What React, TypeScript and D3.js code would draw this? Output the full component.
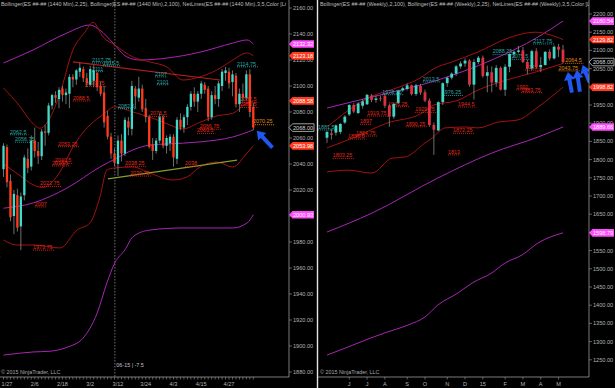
import * as d3 from "d3";

type Bar = [number, number, number, number]; // open, high, low, close

// ES daily bars 1/26 .. 5/6
const dailyBars: Bar[] = [
  [2036, 2056, 2030, 2054], [2053, 2055, 2022, 2026], [2027, 2032, 1996, 1999], [2000, 2020, 1986, 2017],
  [2016, 2021, 1988, 1991], [1992, 2018, 1973.75, 2015], [2016, 2047, 2012, 2045], [2044, 2052, 2033, 2037],
  [2038, 2062, 2035, 2058], [2058, 2068, 2045, 2050], [2050, 2057, 2040, 2046], [2046, 2067, 2043, 2065],
  [2065, 2070, 2054, 2064], [2064, 2087, 2062, 2085], [2085, 2094, 2082, 2093], [2093, 2096, 2087, 2091],
  [2090, 2099, 2083, 2097], [2098, 2100, 2088, 2093], [2093, 2098, 2086, 2095], [2094, 2109, 2083, 2107],
  [2107, 2109, 2099, 2105], [2105, 2113, 2101, 2112], [2111, 2117.75, 2107, 2114], [2113, 2115, 2103, 2106],
  [2106, 2110, 2099, 2102], [2101, 2115.5, 2100, 2113], [2104, 2116, 2099, 2112], [2110, 2111, 2096, 2099],
  [2100, 2103, 2092, 2094], [2095, 2100, 2068, 2072], [2077, 2081, 2059, 2061], [2061, 2064, 2044, 2048],
  [2048, 2052, 2038.25, 2041], [2040, 2062, 2030.75, 2058], [2058, 2063, 2042, 2048], [2048, 2076, 2046, 2074],
  [2073, 2076, 2062, 2068], [2067, 2104, 2062, 2100], [2098, 2100, 2082.5, 2092], [2091, 2107, 2088, 2098],
  [2098, 2101, 2080, 2082], [2083, 2090, 2072, 2076], [2076, 2078, 2052, 2053], [2055, 2060, 2043, 2050],
  [2050, 2060, 2048, 2058], [2058, 2079, 2056, 2076], [2076, 2078, 2052, 2054], [2054, 2062, 2048, 2060],
  [2056, 2063, 2050, 2061], [2061, 2063, 2038, 2045], [2044, 2076, 2040, 2074], [2074, 2079, 2066, 2068],
  [2068, 2078, 2064, 2076], [2076, 2086, 2070, 2084], [2084, 2096, 2081, 2094], [2094, 2099, 2084, 2088],
  [2088, 2096, 2080, 2094], [2094, 2104, 2090, 2102], [2101, 2103, 2094, 2097], [2098, 2100, 2073, 2076],
  [2076, 2096, 2074, 2093], [2093, 2100, 2086, 2090], [2090, 2104, 2084, 2102], [2100, 2113, 2096, 2111],
  [2110, 2114.75, 2104, 2112], [2111, 2114, 2098, 2102], [2103, 2112, 2092, 2109], [2108, 2110, 2083.5, 2086],
  [2086, 2098, 2080, 2094], [2094, 2102, 2088, 2091], [2091, 2112, 2089, 2109], [2109, 2113, 2076, 2080],
  [2084, 2087, 2066, 2068],
];

// ES weekly bars, week of 4/28/2014 .. 5/4/2015
const weeklyBars: Bar[] = [
  [1860, 1880, 1846, 1876], [1872, 1884, 1855, 1868], [1874, 1896, 1866, 1894], [1876, 1900, 1870, 1898],
  [1902, 1922, 1898, 1918], [1924, 1952, 1920, 1950], [1950, 1955, 1928, 1932], [1928, 1958, 1925, 1954],
  [1948, 1966, 1940, 1960], [1952, 1980, 1950, 1978], [1976, 1980, 1958, 1964], [1964, 1976, 1956, 1968],
  [1968, 1976, 1960, 1966], [1975, 1980, 1942, 1948], [1948, 1952, 1890, 1918], [1918, 1956, 1912, 1953],
  [1956, 1992, 1952, 1988], [1990, 2000, 1986, 1996], [1994, 2010, 1990, 2004], [2004, 2006, 1976, 1980],
  [1980, 2008, 1975, 2004], [2002, 2008, 1978, 1984], [1985, 1992, 1958, 1962], [1962, 1968, 1890, 1895],
  [1895, 1902, 1813, 1882], [1880, 1960, 1878, 1958], [1958, 2012, 1950, 2010], [2010, 2028, 2000, 2025],
  [2025, 2040, 2020, 2036], [2036, 2060, 2030, 2056], [2056, 2070, 2050, 2064], [2064, 2078, 2055, 2072],
  [2072, 2076, 2000, 2006], [2006, 2076, 1965, 2068], [2068, 2085, 2062, 2080], [2080, 2086, 2025, 2030],
  [2030, 2058, 1985, 2040], [2040, 2056, 1985, 2012], [2012, 2060, 2000, 2052], [2052, 2056, 1990, 1992],
  [1992, 2062, 1975, 2055], [2055, 2092, 2040, 2090], [2090, 2100, 2080, 2096], [2096, 2112, 2092, 2100],
  [2100, 2110, 2065, 2068], [2068, 2075, 2035, 2050], [2050, 2102, 2045, 2098], [2098, 2106, 2050, 2054],
  [2054, 2082, 2040, 2060], [2060, 2098, 2058, 2096], [2096, 2103, 2072, 2078], [2078, 2114, 2075, 2110],
  [2110, 2117.75, 2082, 2102], [2102, 2115, 2064, 2068],
];

// indicator lines: [bar index, price]
const dUpper100: [number, number][] = [[0, 2117.7], [8.5, 2127.7], [18.3, 2140.8], [24.9, 2146.9], [27.8, 2143], [31.6, 2133], [35.6, 2122.3], [39.3, 2120], [47.1, 2121.5], [56.6, 2126], [66.1, 2133], [70.2, 2135.4], [72, 2132.32]];
const dMid100: [number, number][] = [[0, 2006], [8.5, 2010], [18.3, 2021.5], [27.8, 2037.7], [32.7, 2044.6], [37.3, 2050.8], [42.2, 2054.6], [47.1, 2055.4], [56.6, 2057], [66.1, 2060.8], [72, 2066.2]];
const dLower100: [number, number][] = [[0, 1893], [8.5, 1895.4], [13.4, 1896], [18.3, 1899], [22.9, 1906], [27, 1925.4], [29.8, 1948.5], [32.1, 1964], [35, 1974], [37.3, 1984], [42.2, 1989.2], [51.7, 1990.8], [66.1, 1990.8], [70.2, 1994.6], [72, 2000.93]];
const dUpper25: [number, number][] = [[0, 2098.5], [4.8, 2084], [7.6, 2073.8], [10.5, 2067.5], [12.5, 2071.5], [16.3, 2094.6], [20, 2127.7], [23.5, 2141.5], [25.8, 2149], [28.7, 2137.7], [32.1, 2131.5], [37.3, 2122.3], [42.2, 2118.5], [47.1, 2114.6], [51.7, 2104.6], [56.6, 2107], [61.5, 2112.3], [66.1, 2120], [70.2, 2125.4], [72, 2123.18]];
const dMid25: [number, number][] = [[0, 2040], [4.8, 2031], [8.5, 2024], [11.4, 2022], [16.3, 2034], [20, 2053], [24.9, 2070], [28.7, 2078], [32.1, 2084], [37.3, 2080], [42.2, 2076], [47.1, 2071], [51.7, 2067], [56.6, 2072], [61.5, 2077], [66.1, 2079], [70.2, 2087], [72, 2088.58]];
const dLower25: [number, number][] = [[0, 1981.5], [3.9, 1977.7], [8.5, 1977.7], [16.3, 1975.4], [21.2, 1989.2], [24.9, 1994.6], [27.8, 2014.6], [29.8, 2035.4], [32.1, 2037], [37.3, 2037.7], [42.2, 2033], [48.8, 2027.7], [52.9, 2030], [56.6, 2037.7], [61.5, 2041.5], [66.1, 2037.7], [70.2, 2048.5], [72, 2053.98]];

const wUpper100: [number, number][] = [[0, 1941.8], [10.1, 1972], [24.9, 2018.7], [37, 2073.6], [47.4, 2136.8], [53, 2180.54]];
const wMid100: [number, number][] = [[0, 1601], [10.1, 1653], [24.9, 1749.5], [37, 1818], [47.4, 1862], [53, 1889.66]];
const wLower100: [number, number][] = [[0, 1263], [4.7, 1285], [9.2, 1307], [13, 1324], [18.2, 1345.6], [22, 1367.6], [24.9, 1400.5], [29.4, 1433.5], [32.6, 1461], [37, 1488.5], [40, 1516], [43.8, 1538], [47.4, 1571], [53, 1598.79]];
const wUpper25: [number, number][] = [[0, 1889.6], [9.7, 1972], [15.7, 1997], [20.9, 2024], [24, 2050], [28, 2068], [33.9, 2095.6], [40.7, 2134], [46.7, 2150], [53, 2129.82]];
const wMid25: [number, number][] = [[0, 1832], [6.3, 1862], [13.5, 1900.5], [20.9, 1925], [24, 1950], [29.2, 1962], [33.9, 1991], [40.7, 2020], [46.7, 2040], [53, 2064.3]];
const wLower25: [number, number][] = [[0, 1766], [4.7, 1771], [10.1, 1763], [14.6, 1804], [17.5, 1807], [22, 1845.6], [23.6, 1859], [26.5, 1887], [31, 1889.6], [33.9, 1887], [38.4, 1903], [42.9, 1909], [47.4, 1944.5], [53, 1998.82]];

// NetLines trend lines (daily)
const dResistLine: [number, number][] = [[20, 2118.5], [62.4, 2104.6]];
const dSupportLine: [number, number][] = [[30.1, 2028.5], [67.3, 2043]];

// NetLines levels: [bar index, price, kind]
const dailyLevels: [number, number, string][] = [
  [25.5, 2117.75, "h"], [28.7, 2115.5, "h"], [25.5, 2111, "h"], [43.7, 2107, "h"], [44.2, 2101, "h"],
  [67.3, 2114.75, "h"], [33, 2082.5, "h"], [1.9, 2062.5, "h"], [3.3, 2056.75, "h"],
  [23.5, 2099.75, "l"], [20, 2088.5, "l"], [42.2, 2076.5, "l"], [56.6, 2066.75, "l"], [55.8, 2063.5, "l"],
  [68.2, 2087.5, "l"], [68.2, 2083.5, "l"], [15.7, 2053.25, "l"], [14.8, 2040.5, "l"], [14, 2038.5, "l"],
  [10.5, 2022.75, "l"], [9, 2007, "l"], [8.5, 1973.75, "l"], [35, 2038.25, "l"], [52.3, 2038, "l"],
  [36.5, 2030.75, "l"], [-6, 1998.5, "l"], [-6, 1968.5, "l"], [71.9, 2070.25, "o"],
];
const weeklyLevels: [number, number, string][] = [
  [1.3, 1803.25, "l"], [6.5, 1864.75, "l"], [4.7, 1856.5, "l"], [7.4, 1897, "l"], [9, 1919.75, "l"],
  [13.7, 1945.25, "l"], [19.8, 1929.75, "l"], [17.7, 1890.25, "l"], [29.4, 1944.5, "l"], [27.2, 1813, "l"],
  [28.3, 1872.25, "l"], [44.5, 2045.5, "l"], [42.5, 1992, "l"], [43.6, 1983.75, "l"],
  [-2, 1881.5, "h"], [12.4, 1978.25, "h"], [21.5, 2013.5, "h"], [25.8, 1976.25, "h"], [37.2, 2088.25, "h"],
  [41.5, 2075.5, "h"], [46.3, 2117.75, "h"], [53.5, 2064.5, "o"], [52, 2043.75, "o"],
];

const dailyTicks: [number, string][] = [[1, "1/27"], [9, "2/6"], [17, "2/18"], [25, "3/2"], [33, "3/12"], [41, "3/24"], [49, "4/3"], [57, "4/15"], [65, "4/27"]];
const weeklyTicks: [number, string][] = [[5, "J"], [9, "J"], [13, "A"], [18, "S"], [22, "O"], [27, "N"], [31, "D"], [35, "15"], [40, "F"], [44, "M"], [48, "A"], [52, "M"]];
const dailyPriceTicks = [2160, 2140, 2120, 2100, 2080, 2060, 2040, 2020, 2000, 1980, 1960, 1940, 1920, 1900, 1880];
const weeklyPriceTicks = [2200, 2150, 2100, 2050, 2000, 1950, 1900, 1850, 1800, 1750, 1700, 1650, 1600, 1550, 1500, 1450, 1400, 1350, 1300, 1250];

const dailyMarkers: [number, string][] = [[2132.32, "pink"], [2123.18, "red"], [2088.58, "red"], [2068.0, "price"], [2053.98, "red"], [2000.93, "pink"]];
const weeklyMarkers: [number, string][] = [[2180.54, "pink"], [2129.82, "red"], [2068.0, "price"], [1998.82, "red"], [1889.66, "pink"], [1598.79, "pink"]];

// blue hand-drawn arrows: [bar index, price at tip, angle, length]
const dailyArrows: [number, number, number, number][] = [[73, 2065.5, -133, 23]];
const weeklyArrows: [number, number, number, number][] = [[54.1, 2040.7, -101, 21], [56.1, 2046, -98, 22], [57.4, 2060, -112, 19]];

const FONT = "'Liberation Sans', Arial, sans-serif";
const levelColor: Record<string, string> = { h: "#2aa6a6", l: "#e2281a", o: "#e08a12" };
const markerFill: Record<string, string> = { pink: "#ff4cff", red: "#ff3a1f", price: "#000" };

function arrowPath(len: number) {
  const h = 8;
  return `M0,-2 L${len - h},-2 L${len - h},-5.5 L${len},0 L${len - h},5.5 L${len - h},2 L0,2 Z`;
}

function Candles({ bars, x, y, w, up, down }: any) {
  return (
    <g>
      {bars.map((b: Bar, i: number) => {
        const [o, h, l, c] = b;
        const top = y(Math.max(o, c));
        const bh = Math.max(0.8, Math.abs(y(o) - y(c)));
        return (
          <g key={i}>
            <line x1={x(i)} x2={x(i)} y1={y(h)} y2={y(l)} stroke="#8a8a8a" strokeWidth={0.8} />
            <rect x={x(i) - w / 2} y={top} width={w} height={bh} fill={c >= o ? up : down} />
          </g>
        );
      })}
    </g>
  );
}

function Levels({ levels, x, y, left }: any) {
  return (
    <g fontFamily={FONT} fontSize={5.4}>
      {levels.map((d: [number, number, string], k: number) => {
        const t = String(d[1]);
        const lx = x(d[0]);
        const ly = y(d[1]);
        const wdt = t.length * 3.05;
        // labels that start left of the plot only show their dotted line
        const showText = lx >= left;
        return (
          <g key={k}>
            <line x1={lx} x2={lx + wdt} y1={ly} y2={ly} stroke={levelColor[d[2]]} strokeWidth={0.9} strokeDasharray="1,1" />
            {showText && <text x={lx} y={ly - 1.2} fill={levelColor[d[2]]}>{t}</text>}
          </g>
        );
      })}
    </g>
  );
}

function Markers({ markers, y, x0 }: any) {
  return (
    <g fontFamily={FONT} fontSize={5.6}>
      {markers.map((m: [number, string], k: number) => {
        const my = y(m[0]);
        const isPrice = m[1] === "price";
        return (
          <g key={k} transform={`translate(${x0},${my})`}>
            <path d="M0,0 L3.5,-3.8 L25,-3.8 L25,3.8 L3.5,3.8 Z" fill={markerFill[m[1]]} stroke={isPrice ? "#c8c8c8" : "none"} strokeWidth={0.8} />
            <text x={4} y={2} fill={isPrice ? "#d8d8d8" : "#fff"}>{m[0].toFixed(2)}</text>
          </g>
        );
      })}
    </g>
  );
}

function Arrows({ arrows, x, y }: any) {
  return (
    <g>
      {arrows.map((a: [number, number, number, number], k: number) => (
        <path key={k} d={arrowPath(a[3])} fill="#1f58f0"
          transform={`translate(${x(a[0])},${y(a[1])}) rotate(${a[2]}) translate(${-a[3]},0)`} />
      ))}
    </g>
  );
}

export default function App() {
  const W = 615, H = 388;
  const bottom = 377;

  // left (daily)
  const lRight = 289;
  const xL = d3.scaleLinear().domain([0, 72]).range([3.5, 253.3]);
  const yL = d3.scaleLinear().domain([1880, 2160]).range([372, 8]);
  const lineL = d3.line<[number, number]>().x((d) => xL(d[0])).y((d) => yL(d[1])).curve(d3.curveMonotoneX);
  const segL = d3.line<[number, number]>().x((d) => xL(d[0])).y((d) => yL(d[1]));

  // right (weekly)
  const rLeft = 318, rRight = 589;
  const xR = d3.scaleLinear().domain([0, 53]).range([327, 563]);
  const yR = d3.scaleLinear().domain([1250, 2200]).range([359.8, 14]);
  const lineR = d3.line<[number, number]>().x((d) => xR(d[0])).y((d) => yR(d[1])).curve(d3.curveMonotoneX);

  const magenta = "#a826b4";
  const darkRed = "#a31212";
  const axisCol = "#9a9a9a";

  return (
    <div style={{ position: "absolute", left: 0, top: 0 }}>
      <svg width={W} height={H} style={{ display: "block", background: "#000" }}>
        <defs>
          <clipPath id="clipL"><rect x={0} y={0} width={lRight} height={bottom} /></clipPath>
          <clipPath id="clipR"><rect x={rLeft} y={0} width={rRight - rLeft} height={bottom} /></clipPath>
        </defs>

        {/* ---------- left panel ---------- */}
        <g clipPath="url(#clipL)">
          <line x1={xL(32.1)} x2={xL(32.1)} y1={0} y2={bottom} stroke="#8c8c8c" strokeWidth={0.8} strokeDasharray="1.5,1.5" />
          <path d={lineL(dUpper100) || ""} fill="none" stroke={magenta} strokeWidth={1} />
          <path d={lineL(dMid100) || ""} fill="none" stroke={magenta} strokeWidth={1} />
          <path d={lineL(dLower100) || ""} fill="none" stroke={magenta} strokeWidth={1} />
          <path d={lineL(dUpper25) || ""} fill="none" stroke={darkRed} strokeWidth={1} />
          <path d={lineL(dMid25) || ""} fill="none" stroke={darkRed} strokeWidth={1} />
          <path d={lineL(dLower25) || ""} fill="none" stroke={darkRed} strokeWidth={1} />
          <path d={segL(dResistLine) || ""} stroke="#b0201a" strokeWidth={1.2} />
          <path d={segL(dSupportLine) || ""} stroke="#8d9a2c" strokeWidth={1.2} />
          <Levels levels={dailyLevels} x={xL} y={yL} left={0} />
          <Candles bars={dailyBars} x={xL} y={yL} w={2.3} up="#3fdccb" down="#ff3b1c" />
          <Arrows arrows={dailyArrows} x={xL} y={yL} />
          <text x={1} y={6} fill="#bdbdbd" fontFamily={FONT} fontSize={5.4}>
            Bollinger(ES ##-## (1440 Min),2,25), Bollinger(ES ##-## (1440 Min),2,100), NetLines(ES ##-## (1440 Min),3,5,Color [Li
          </text>
          <text x={xL(32.1) + 1.5} y={367} fill="#c4c4c4" fontFamily={FONT} fontSize={5.4}>06-15 | -7.5</text>
          <text x={1} y={374} fill="#a8a8a8" fontFamily={FONT} fontSize={5.4}>© 2015 NinjaTrader, LLC</text>
        </g>
        <line x1={0} x2={lRight} y1={bottom} y2={bottom} stroke={axisCol} strokeWidth={0.8} />
        <line x1={lRight} x2={lRight} y1={0} y2={bottom} stroke={axisCol} strokeWidth={0.8} />
        {dailyBars.map((_, i) => (
          <line key={i} x1={xL(i)} x2={xL(i)} y1={bottom} y2={bottom + 2.5} stroke={axisCol} strokeWidth={0.6} />
        ))}
        <g fontFamily={FONT} fontSize={5.6} fill="#b4b4b4">
          {dailyTicks.map((t) => (
            <text key={t[1]} x={xL(t[0])} y={386} textAnchor="middle">{t[1]}</text>
          ))}
          {dailyPriceTicks.map((v) => (
            <g key={v}>
              <line x1={lRight} x2={lRight + 3} y1={yL(v)} y2={yL(v)} stroke={axisCol} strokeWidth={0.6} />
              <text x={lRight + 4} y={yL(v) + 2}>{v.toFixed(2)}</text>
            </g>
          ))}
        </g>
        <Markers markers={dailyMarkers} y={yL} x0={lRight} />

        {/* ---------- right panel ---------- */}
        <rect x={rLeft - 1.5} y={0} width={W - rLeft + 1.5} height={H} fill="#000" />
        <g clipPath="url(#clipR)">
          <path d={lineR(wUpper100) || ""} fill="none" stroke={magenta} strokeWidth={1} />
          <path d={lineR(wMid100) || ""} fill="none" stroke={magenta} strokeWidth={1} />
          <path d={lineR(wLower100) || ""} fill="none" stroke={magenta} strokeWidth={1} />
          <path d={lineR(wUpper25) || ""} fill="none" stroke={darkRed} strokeWidth={1} />
          <path d={lineR(wMid25) || ""} fill="none" stroke={darkRed} strokeWidth={1} />
          <path d={lineR(wLower25) || ""} fill="none" stroke={darkRed} strokeWidth={1} />
          <Levels levels={weeklyLevels} x={xR} y={yR} left={rLeft} />
          <Candles bars={weeklyBars} x={xR} y={yR} w={2.8} up="#3fd6c6" down="#e0303e" />
          <Arrows arrows={weeklyArrows} x={xR} y={yR} />
          <text x={rLeft + 2} y={6} fill="#bdbdbd" fontFamily={FONT} fontSize={5.4}>
            Bollinger(ES ##-## (Weekly),2,100), Bollinger(ES ##-## (Weekly),2,25), NetLines(ES ##-## (Weekly),3,5,Color [Li
          </text>
          <text x={rLeft + 2} y={374} fill="#a8a8a8" fontFamily={FONT} fontSize={5.4}>© 2015 NinjaTrader, LLC</text>
        </g>
        <line x1={rLeft - 0.5} x2={rLeft - 0.5} y1={0} y2={H} stroke="#e6e6e6" strokeWidth={1.4} />
        <line x1={rLeft} x2={rRight} y1={bottom} y2={bottom} stroke={axisCol} strokeWidth={0.8} />
        <line x1={rRight} x2={rRight} y1={0} y2={bottom} stroke={axisCol} strokeWidth={0.8} />
        <g fontFamily={FONT} fontSize={5.6} fill="#b4b4b4">
          {weeklyTicks.map((t, k) => (
            <g key={k}>
              <line x1={xR(t[0])} x2={xR(t[0])} y1={bottom} y2={bottom + 2.5} stroke={axisCol} strokeWidth={0.6} />
              <text x={xR(t[0])} y={386} textAnchor="middle">{t[1]}</text>
            </g>
          ))}
          {weeklyPriceTicks.map((v) => (
            <g key={v}>
              <line x1={rRight} x2={rRight + 3} y1={yR(v)} y2={yR(v)} stroke={axisCol} strokeWidth={0.6} />
              <text x={rRight + 4} y={yR(v) + 2}>{v.toFixed(2)}</text>
            </g>
          ))}
        </g>
        <Markers markers={weeklyMarkers} y={yR} x0={rRight} />
      </svg>
    </div>
  );
}
